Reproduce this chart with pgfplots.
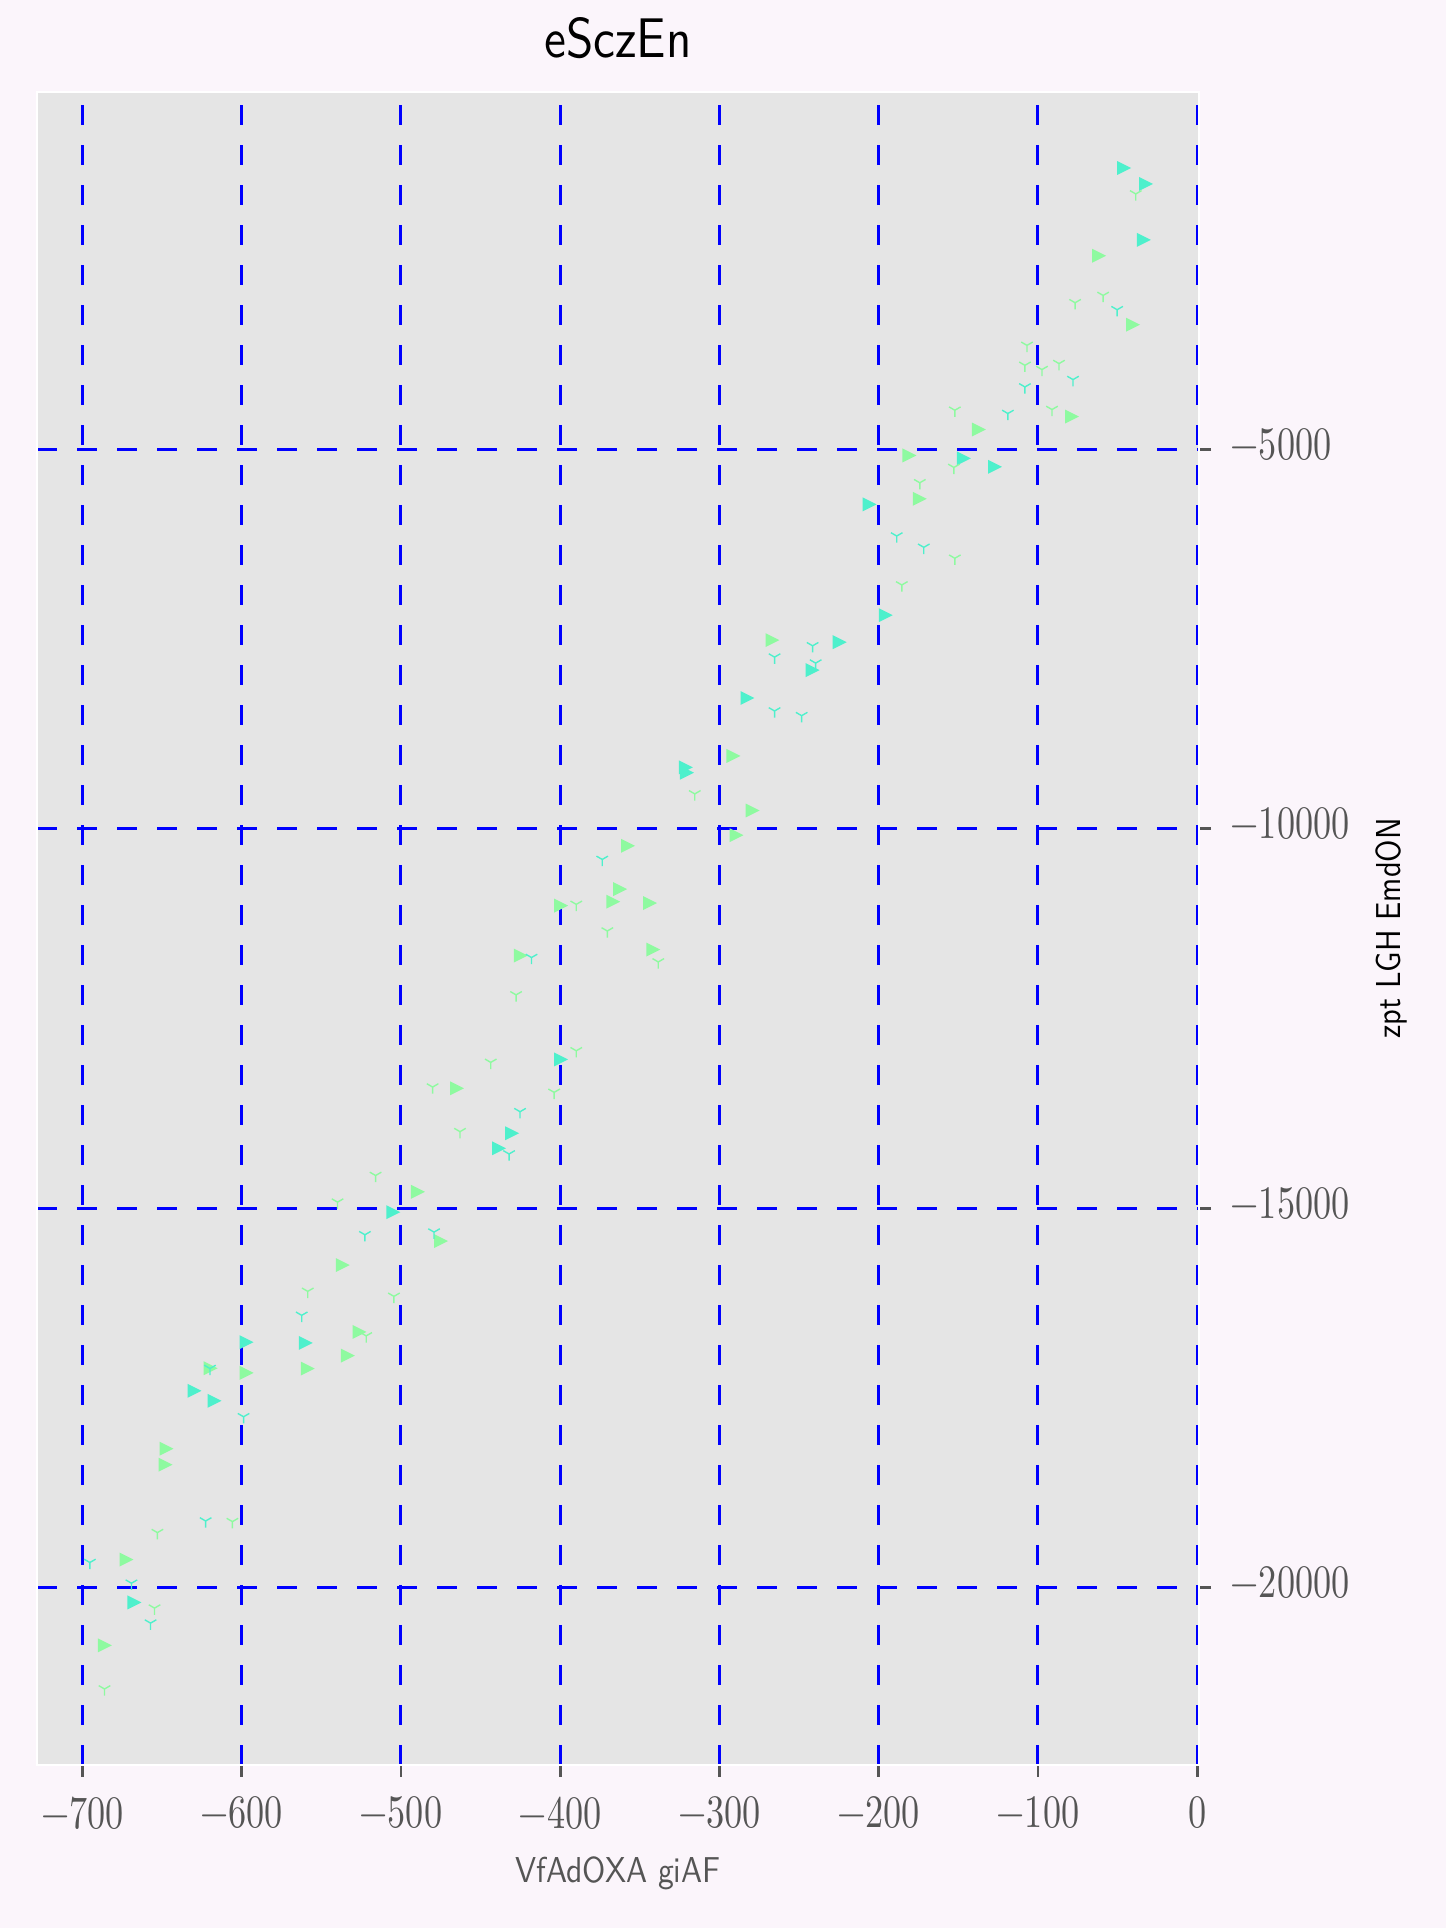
\documentclass[border=0pt]{standalone}
\usepackage{pgfplots}
\pgfplotsset{compat=1.18}
\usepackage{fontspec}
\newfontfamily\tickfont{lmroman10-regular}[Extension=.otf, FakeStretch=0.78]
\newfontfamily\labfont{lmsans10-regular}[Extension=.otf, FakeStretch=0.88]
\definecolor{pagebg}{RGB}{251,245,251}
\definecolor{axisbg}{RGB}{229,229,229}
\definecolor{tickgray}{RGB}{85,85,85}
\definecolor{tealc}{RGB}{78,240,204}
\definecolor{greenc}{RGB}{142,250,160}
\pgfdeclareplotmark{rtri}{%
  \pgfpathmoveto{\pgfqpoint{\pgfplotmarksize}{0pt}}%
  \pgfpathlineto{\pgfqpoint{-\pgfplotmarksize}{\pgfplotmarksize}}%
  \pgfpathlineto{\pgfqpoint{-\pgfplotmarksize}{-\pgfplotmarksize}}%
  \pgfpathclose\pgfusepathqfill}
\pgfdeclareplotmark{ydown}{%
  \pgfpathmoveto{\pgfqpoint{0pt}{0pt}}\pgfpathlineto{\pgfqpoint{0pt}{-\pgfplotmarksize}}%
  \pgfpathmoveto{\pgfqpoint{0pt}{0pt}}\pgfpathlineto{\pgfqpoint{0.866\pgfplotmarksize}{0.5\pgfplotmarksize}}%
  \pgfpathmoveto{\pgfqpoint{0pt}{0pt}}\pgfpathlineto{\pgfqpoint{-0.866\pgfplotmarksize}{0.5\pgfplotmarksize}}%
  \pgfusepathqstroke}
\begin{document}
\begin{tikzpicture}
\fill[pagebg] (-0.185in,-0.815in) rectangle (7.045in,8.825in);
\begin{axis}[
  at={(0,0)}, anchor=south west,
  scale only axis, width=5.81in, height=8.365in,
  xmin=-728.5, xmax=1.1, ymin=-22340, ymax=-288,
  scaled x ticks=false, scaled y ticks=false,
  axis background/.style={fill=axisbg},
  axis line style={white, line width=1pt},
  xtick={-700,-600,-500,-400,-300,-200,-100,0},
  xticklabels={−700,−600,−500,−400,−300,−200,−100,0},
  ytick={-20000,-15000,-10000,-5000},
  yticklabels={−20000,−15000,−10000,−5000},
  xtick pos=left, ytick pos=right, yticklabel pos=right,
  tick align=outside, major tick length=0.06in,
  tick style={color=tickgray, line width=1pt},
  grid=major,
  major grid style={color=blue, dash pattern=on 0.1in off 0.1in, line width=1.08pt},
  xticklabel style={font=\tickfont\fontsize{16.8}{20}\selectfont, text=tickgray, yshift=-0.05in},
  yticklabel style={font=\tickfont\fontsize{16.8}{20}\selectfont, text=tickgray, anchor=west, xshift=0.05in, yshift=0.025in},
  title={eSczEn},
  title style={font=\labfont\fontsize{20.2}{24}\selectfont, text=black, at={(axis description cs:0.5,1.0108)}, anchor=base},
  xlabel={VfAdOXA giAF},
  xlabel style={font=\labfont\fontsize{13}{16}\selectfont, text=tickgray, at={(axis description cs:0.5,-0.0705)}, anchor=base},
  ylabel={zpt LGH EmdON},
  ylabel style={font=\labfont\fontsize{12.5}{15}\selectfont, text=black, at={(axis description cs:1.173,0.5)}, anchor=base, rotate=0},
]
\addplot[only marks, mark=rtri, mark size=2.52pt, color=tealc] table {
x y
-45.9 -1290
-32.1 -1500
-33.5 -2237
-146.5 -5118
-127.0 -5229
-205.7 -5724
-195.6 -7184
-224.5 -7540
-241.5 -7908
-282.4 -8276
-321.1 -9190
-320.4 -9260
-399.4 -13040
-430.2 -14013
-438.4 -14211
-504.8 -15053
-559.7 -16777
-596.9 -16767
-629.6 -17408
-617.0 -17540
-667.3 -20197
};
\addplot[only marks, mark=rtri, mark size=2.52pt, color=greenc] table {
x y
-61.6 -2447
-40.3 -3355
-78.6 -4566
-137.1 -4737
-180.7 -5079
-174.2 -5650
-266.7 -7513
-291.2 -9040
-279.2 -9759
-289.3 -10084
-357.4 -10224
-362.4 -10795
-399.4 -11013
-366.7 -10961
-343.6 -10979
-424.7 -11671
-341.5 -11592
-464.8 -13421
-489.3 -14785
-474.8 -15434
-536.5 -15750
-526.0 -16632
-533.3 -16944
-558.5 -17115
-619.5 -17110
-596.9 -17171
-647.2 -18171
-647.8 -18382
-672.3 -19632
-685.9 -20763
};
\addplot[only marks, mark=ydown, mark size=2.41pt, color=tealc, line width=0.5pt] table {
x y
-50.3 -3158
-78.0 -4079
-108.2 -4176
-118.9 -4526
-188.7 -6141
-171.7 -6290
-241.5 -7588
-265.4 -7737
-239.6 -7816
-265.4 -8447
-248.4 -8509
-373.6 -10404
-418.0 -11697
-425.2 -13729
-432.1 -14286
-522.6 -15351
-479.2 -15316
-562.3 -16413
-619.9 -17114
-598.8 -17750
-622.6 -19124
-695.3 -19671
-669.2 -19944
-657.2 -20470
};
\addplot[only marks, mark=ydown, mark size=2.41pt, color=greenc, line width=0.5pt] table {
x y
-38.6 -1632
-76.7 -3066
-59.1 -2970
-106.9 -3628
-108.2 -3891
-97.5 -3947
-86.8 -3868
-152.2 -4483
-91.2 -4474
-152.8 -5237
-174.2 -5439
-152.2 -6434
-185.5 -6786
-315.5 -9540
-389.9 -10996
-370.4 -11347
-338.4 -11755
-427.7 -12189
-389.9 -12926
-443.6 -13079
-403.8 -13474
-462.9 -13992
-480.1 -13404
-515.9 -14570
-539.8 -14921
-558.5 -16097
-504.4 -16163
-521.8 -16684
-605.8 -19132
-652.9 -19277
-654.7 -20272
-686.1 -21338
};
\end{axis}
\pgfresetboundingbox
\path[use as bounding box] (-0.185in,-0.815in) rectangle (7.045in,8.825in);
\end{tikzpicture}
\end{document}
